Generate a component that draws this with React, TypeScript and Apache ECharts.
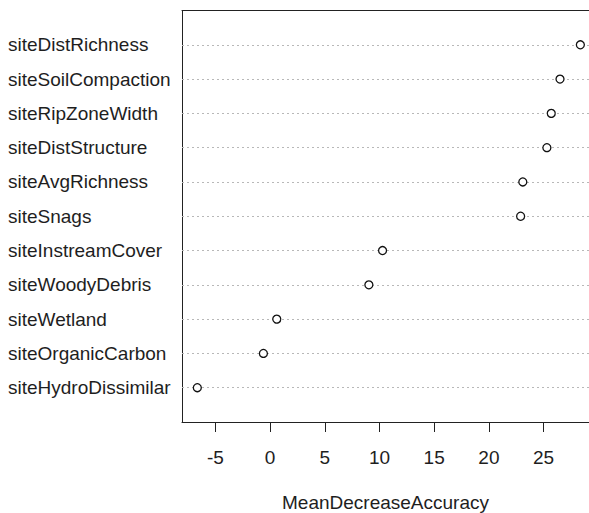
import React, { useEffect, useRef } from "react";
import * as echarts from "echarts";

const variables = [
  "siteDistRichness",
  "siteSoilCompaction",
  "siteRipZoneWidth",
  "siteDistStructure",
  "siteAvgRichness",
  "siteSnags",
  "siteInstreamCover",
  "siteWoodyDebris",
  "siteWetland",
  "siteOrganicCarbon",
  "siteHydroDissimilar",
];
const meanDecreaseAccuracy = [28.36, 26.5, 25.7, 25.3, 23.1, 22.9, 10.28, 9.03, 0.61, -0.61, -6.65];
const xTicks = [-5, 0, 5, 10, 15, 20, 25];
const axisTitle = "MeanDecreaseAccuracy";

const FONT = "'Liberation Sans', Arial, Helvetica, sans-serif";
const TEXT = "#1e1e1e";
const X_MIN = -8.05;
const X_MAX = 29.15;

export default function App() {
  const ref = useRef<HTMLDivElement>(null);
  useEffect(() => {
    if (!ref.current) return;
    const chart = echarts.init(ref.current, undefined, { renderer: "svg" });
    const n = variables.length;
    const rowPos = variables.map((_, i) => n - i);
    const border = { show: true, onZero: false, lineStyle: { color: "#222222", width: 1 } };
    chart.setOption({
      animation: false,
      backgroundColor: "#ffffff",
      grid: {
        left: 182,
        top: 10.5,
        height: 411.5,
        width: 407,
        containLabel: false,
        outerBoundsMode: "none",
      },
      xAxis: [
        {
          type: "value",
          position: "bottom",
          min: X_MIN,
          max: X_MAX,
          axisLine: border,
          splitLine: { show: false },
          axisTick: {
            show: true,
            customValues: xTicks,
            length: 10,
            lineStyle: { color: "#222222", width: 1 },
          },
          axisLabel: {
            customValues: xTicks,
            fontSize: 19,
            fontFamily: FONT,
            color: TEXT,
            margin: 26,
          },
          name: axisTitle,
          nameLocation: "middle",
          nameGap: 71,
          nameTextStyle: { fontSize: 19, fontFamily: FONT, color: TEXT },
        },
        {
          type: "value",
          position: "top",
          min: X_MIN,
          max: X_MAX,
          axisLine: border,
          axisTick: { show: false },
          axisLabel: { show: false },
          splitLine: { show: false },
        },
      ],
      yAxis: {
        type: "value",
        min: 0,
        max: n + 1,
        axisLine: border,
        axisTick: { show: false },
        splitLine: { show: false },
        axisLabel: {
          customValues: rowPos,
          formatter: (v: number) => variables[n - v] ?? "",
          align: "left",
          margin: 174,
          fontSize: 19,
          fontFamily: FONT,
          color: TEXT,
        },
      },
      series: [
        {
          type: "scatter",
          symbol: "circle",
          symbolSize: 8,
          itemStyle: { color: "#ffffff", borderColor: "#111111", borderWidth: 1.3, opacity: 1 },
          data: meanDecreaseAccuracy.map((v, i) => [v, rowPos[i]]),
          z: 3,
          markLine: {
            silent: true,
            symbol: ["none", "none"],
            label: { show: false },
            lineStyle: { type: [2, 3], color: "#b8b8b8", width: 1 },
            data: rowPos.map((p) => ({ yAxis: p })),
            z: 1,
          },
        },
      ],
    });
    return () => chart.dispose();
  }, []);
  return (
    <div
      ref={ref}
      style={{
        position: "absolute",
        left: 0,
        top: 0,
        width: 589,
        height: 513,
        overflow: "hidden",
        background: "#fff",
      }}
    />
  );
}
